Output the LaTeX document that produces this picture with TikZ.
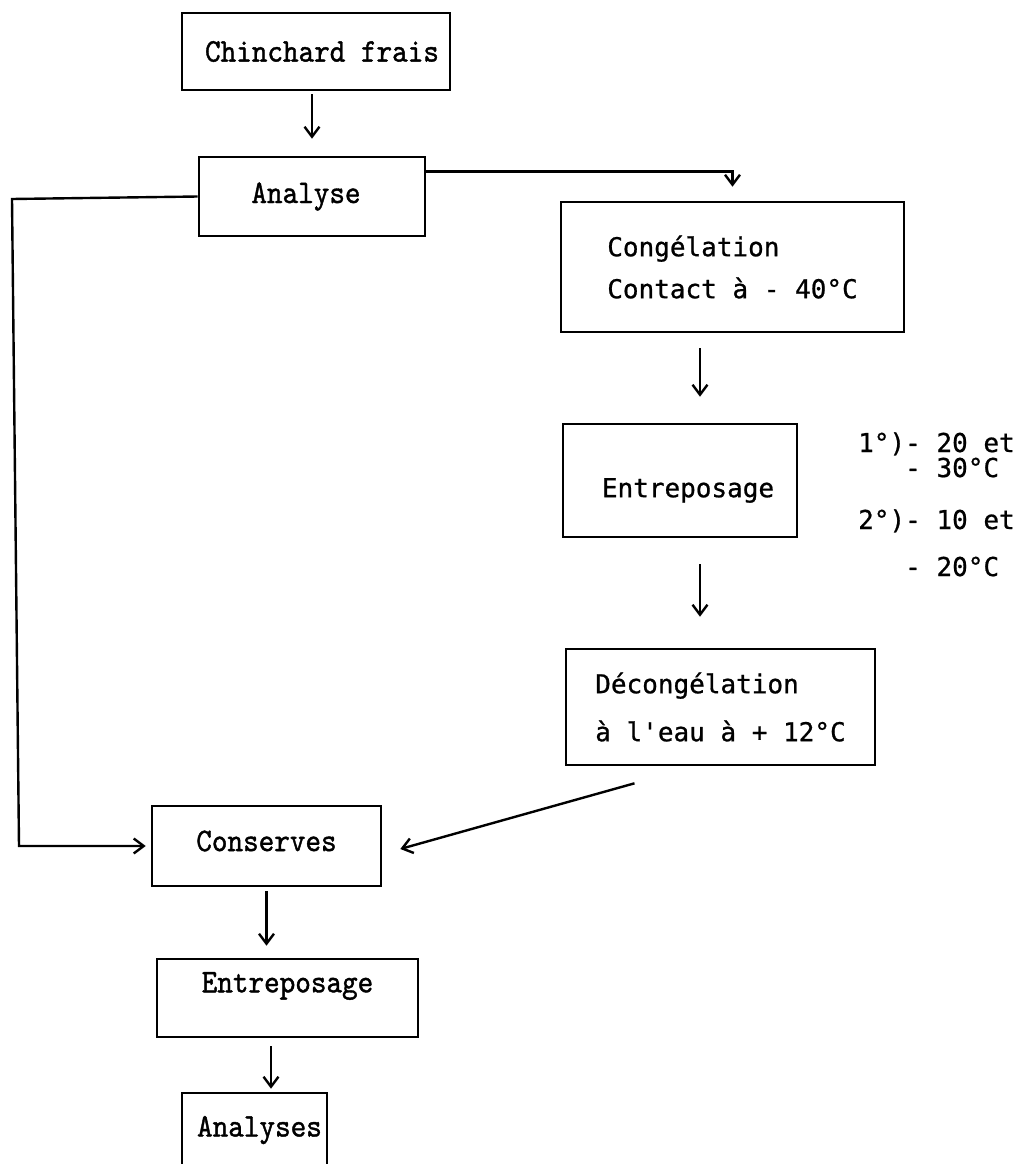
\documentclass[tikz,border=0pt]{standalone}
\usepackage{fontspec}
\newfontfamily\typeL[Extension=.otf,FakeBold=1.2,FakeStretch=0.9]{lmmono10-regular}
\newfontfamily\typeR[FakeBold=0.8]{DejaVu Sans Mono}
\usetikzlibrary{arrows.meta}
\tikzset{
  box/.style={draw, line width=2.6pt, inner sep=0pt, rectangle},
  lfont/.style={font=\typeL\fontsize{33pt}{38pt}\selectfont},
  rfont/.style={font=\typeR\fontsize{26pt}{31pt}\selectfont},
  arr/.style={line width=2.4pt, -{Straight Barb[length=10pt,width=15pt,line width=2.4pt]}},
  sidetext/.style={rfont, anchor=base west, inner sep=0pt},
}
\begin{document}
\begin{tikzpicture}[x=1pt,y=-1pt]
\useasboundingbox[fill=white] (0,0) rectangle (1025,1164);

% boxes
\node[box,lfont,minimum width=268pt,minimum height=77pt] (cf) at (316,51.5) {\hspace*{12pt}Chinchard frais};
\node[box,lfont,minimum width=226pt,minimum height=79pt] (an) at (312,196.5) {Analyse\hspace*{12pt}};
\node[box,align=left,minimum width=343pt,minimum height=130pt,font=\typeR\fontsize{26pt}{42pt}\selectfont] (cg) at (732.5,267) {Congélation\\Contact à - 40°C};
\node[box,rfont,minimum width=234pt,minimum height=113pt] (en1) at (680,480.5) {\hspace*{16pt}\raisebox{-10pt}[\height][\depth]{Entreposage}};
\node[box,align=left,minimum width=309pt,minimum height=116pt,font=\typeR\fontsize{26pt}{48pt}\selectfont] (dc) at (720.5,707) {Décongélation\\à l'eau à + 12°C};
\node[box,lfont,minimum width=229pt,minimum height=80pt] (cs) at (266.5,846) {\raisebox{5pt}[\height][\depth]{Conserves}};
\node[box,lfont,minimum width=261pt,minimum height=78pt] (en2) at (287.5,998) {\raisebox{12pt}[\height][\depth]{Entreposage}};
\node[box,lfont,minimum width=145pt,minimum height=80pt] (an2) at (254.5,1133) {\hspace*{10pt}\raisebox{3pt}[\height][\depth]{Analyses}};

% side notes
\node[sidetext] (t1) at (858,452) {1°)- 20 et};
\node[sidetext] (t2) at (905,477) {- 30°C};
\node[sidetext] (t3) at (858,529) {2°)- 10 et};
\node[sidetext] (t4) at (905,576) {- 20°C};

% helper coordinates
\coordinate (colR) at (700,0);
\coordinate (colB) at (271,0);
\coordinate (lt) at (12,199);
\coordinate (lb) at (19,846);

% connectors
\draw[arr, shorten <=3pt, shorten >=17pt] (cf.south -| an.north) -- (an.north);
\draw[arr] ([yshift=25pt]an.east) -| ([yshift=14pt]cg.north);
\draw[arr, shorten >=5pt] (an.west) -- (lt) -- (lb) -- (cs.west);
\draw[arr, shorten <=15pt, shorten >=26pt] (cg.south -| colR) -- (en1.north -| colR);
\draw[arr, shorten <=26pt, shorten >=31pt] (en1.south -| colR) -- (dc.north -| colR);
\draw[arr] ([xshift=-86pt,yshift=-17pt]dc.south) -- ([xshift=18pt,yshift=-3pt]cs.east);
\draw[arr, shorten <=4pt, shorten >=12pt] (cs.south) -- (cs.south |- en2.north);
\draw[arr, shorten <=8pt, shorten >=3pt] (en2.south -| colB) -- (an2.north -| colB);
\end{tikzpicture}
\end{document}
